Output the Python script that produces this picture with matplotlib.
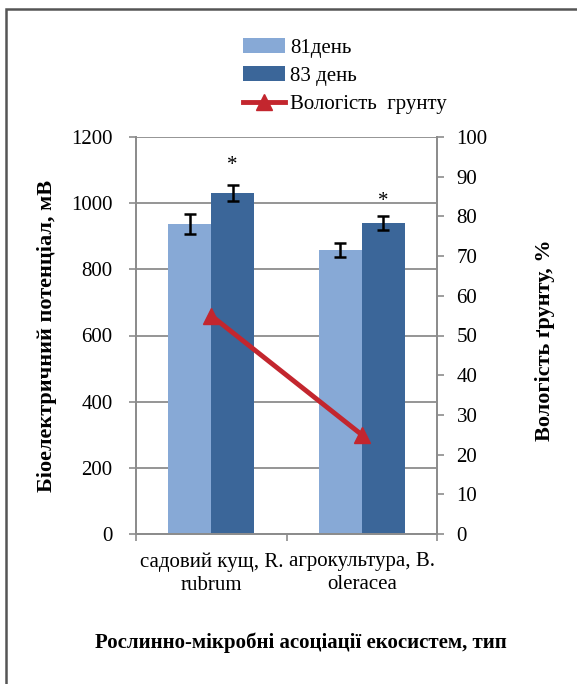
import numpy as np
import matplotlib
matplotlib.use("Agg")
import matplotlib.pyplot as plt
from matplotlib.patches import Rectangle

plt.rcParams['font.family'] = ['Liberation Serif', 'DejaVu Serif']

# дані
categories = ["садовий кущ, R.\nrubrum", "агрокультура, B.\noleracea"]
day81 = [937, 858]
day81_err = [29, 22]
day83 = [1032, 940]
day83_err = [24, 22]
moisture = [55, 25]
star_y = [1115, 1005]
legend_labels = ["81день", "83 день", "Вологість  грунту"]

light = "#87a9d6"
dark = "#3b6699"
red = "#c3262e"
grid_c = "#8c8c8c"

fig = plt.figure(figsize=(5.77, 6.84), dpi=100)
ax = fig.add_axes([136 / 577, 1 - 534 / 684, 301 / 577, 397 / 684])
ax2 = ax.twinx()

x = np.arange(len(categories))
w = 0.285
b1 = ax.bar(x - w / 2, day81, w, color=light, label=legend_labels[0], zorder=2)
b2 = ax.bar(x + w / 2, day83, w, color=dark, label=legend_labels[1], zorder=2)
ax.errorbar(x - w / 2, day81, yerr=day81_err, fmt='none', ecolor='black',
            elinewidth=1.8, capsize=4, capthick=1.8, zorder=3)
ax.errorbar(x + w / 2, day83, yerr=day83_err, fmt='none', ecolor='black',
            elinewidth=1.8, capsize=4, capthick=1.8, zorder=3)
for xi, yi in zip(x + w / 2, star_y):
    ax.text(xi, yi, "*", ha='center', va='center', fontsize=15)

ln, = ax2.plot(x, moisture, color=red, lw=3.5, marker='^', markersize=12,
               label=legend_labels[2])

ax.set_xlim(-0.5, 1.5)
ax.set_ylim(0, 1200)
ax.set_yticks(np.arange(0, 1201, 200))
ax2.set_ylim(0, 100)
ax2.set_yticks(np.arange(0, 101, 10))

ax.set_xticks([-0.5, 0.5, 1.5])
ax.set_xticklabels([])
ax.set_xticks(x, minor=True)
ax.set_xticklabels(categories, minor=True, fontsize=15, linespacing=1.3)
ax.tick_params(axis='x', which='minor', length=0, pad=13)
ax.tick_params(axis='x', which='major', length=5, color=grid_c, width=1.2)

ax.grid(axis='y', color=grid_c, lw=1.3)
ax.set_axisbelow(True)
ax.tick_params(axis='y', labelsize=15, length=5, color=grid_c, width=1.2, pad=12)
ax2.tick_params(axis='y', labelsize=15, length=5, color=grid_c, width=1.2, pad=9)
for a in (ax, ax2):
    for s in a.spines.values():
        s.set_color(grid_c)
        s.set_linewidth(1.3)
ax.spines['top'].set_visible(False)
ax2.spines['top'].set_visible(False)

fig.text(47 / 577, 1 - 336 / 684, "Біоелектричний потенціал, мВ", rotation=90,
         ha='center', va='center', fontsize=16, fontweight='bold')
fig.text(545 / 577, 1 - 340 / 684, "Вологість ґрунту, %", rotation=90,
         ha='center', va='center', fontsize=16, fontweight='bold')
fig.text(301 / 577, 1 - 643 / 684, "Рослинно-мікробні асоціації екосистем, тип",
         ha='center', va='center', fontsize=15, fontweight='bold')

fig.legend([b1, b2, ln], legend_labels, loc='upper left',
           bbox_to_anchor=(243 / 577, 1 - 38 / 684), frameon=False, fontsize=15,
           handlelength=2.0, handletextpad=0.25, labelspacing=0.42,
           borderaxespad=0, borderpad=0)

fig.patches.append(Rectangle((6 / 577, -0.1), 1.2, 1.1 - 9 / 684,
                             transform=fig.transFigure, fill=False,
                             edgecolor='#555555', lw=1.8))

fig.savefig("out.png", dpi=100)
